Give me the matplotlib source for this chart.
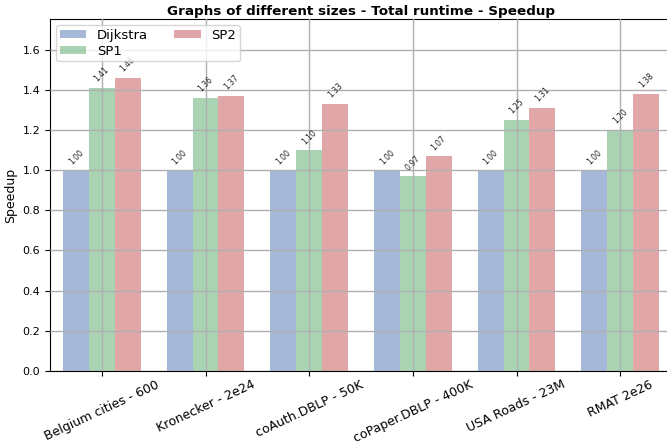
import matplotlib
matplotlib.use('Agg')
import matplotlib.pyplot as plt
import numpy as np

# Datos
categorias = ['Belgium cities - 600', 'Kronecker - 2e24', 'coAuth.DBLP - 50K',
              'coPaper.DBLP - 400K', 'USA Roads - 23M', 'RMAT 2e26']
dijkstra = [1.00, 1.00, 1.00, 1.00, 1.00, 1.00]
sp1 = [1.41, 1.36, 1.10, 0.97, 1.25, 1.20]
sp2 = [1.46, 1.37, 1.33, 1.07, 1.31, 1.38]
nombres = ['Dijkstra', 'SP1', 'SP2']
colores = ['#4C72B0', '#55A868', '#C44E52']

fig = plt.figure(figsize=(6.67, 4.44), dpi=100)
ax = fig.add_axes([50 / 667, 73 / 444, 622 / 667, 352 / 444])

x = np.arange(len(categorias))
ancho = 0.25
for i, (serie, nombre, color) in enumerate(zip([dijkstra, sp1, sp2], nombres, colores)):
    barras = ax.bar(x + (i - 1) * ancho, serie, ancho, color=color, alpha=0.5,
                    label=nombre, zorder=1)
    for b in barras:
        ax.text(b.get_x() + b.get_width() / 2, b.get_height() + 0.02,
                '%.2f' % b.get_height(), ha='center', va='bottom',
                rotation=45, fontsize=5.5, color='#222222', zorder=3)

ax.set_xlim(-0.5, len(categorias) - 0.5)
ax.set_ylim(0, max(sp2) * 1.2)
ax.set_xticks(x)
ax.set_xticklabels(categorias, rotation=25, ha='center', fontsize=9)
ax.tick_params(axis='x', pad=1.5)
ax.tick_params(axis='y', labelsize=8)
ax.set_yticks(np.arange(0, 1.7, 0.2))
ax.set_ylabel('Speedup', fontsize=9)
ax.set_title('Graphs of different sizes - Total runtime - Speedup', fontsize=9.7,
             fontweight='bold', pad=3)
ax.grid(True, color='#b0b0b0', linewidth=1, zorder=2)
ax.set_axisbelow(False)
ax.legend(loc='upper left', ncol=2, fontsize=9.5, handlelength=2.0,
          handleheight=0.55, labelspacing=0.2, columnspacing=2.0,
          handletextpad=0.8, borderpad=0.3, borderaxespad=0.45)

fig.savefig('out.png', dpi=100)
